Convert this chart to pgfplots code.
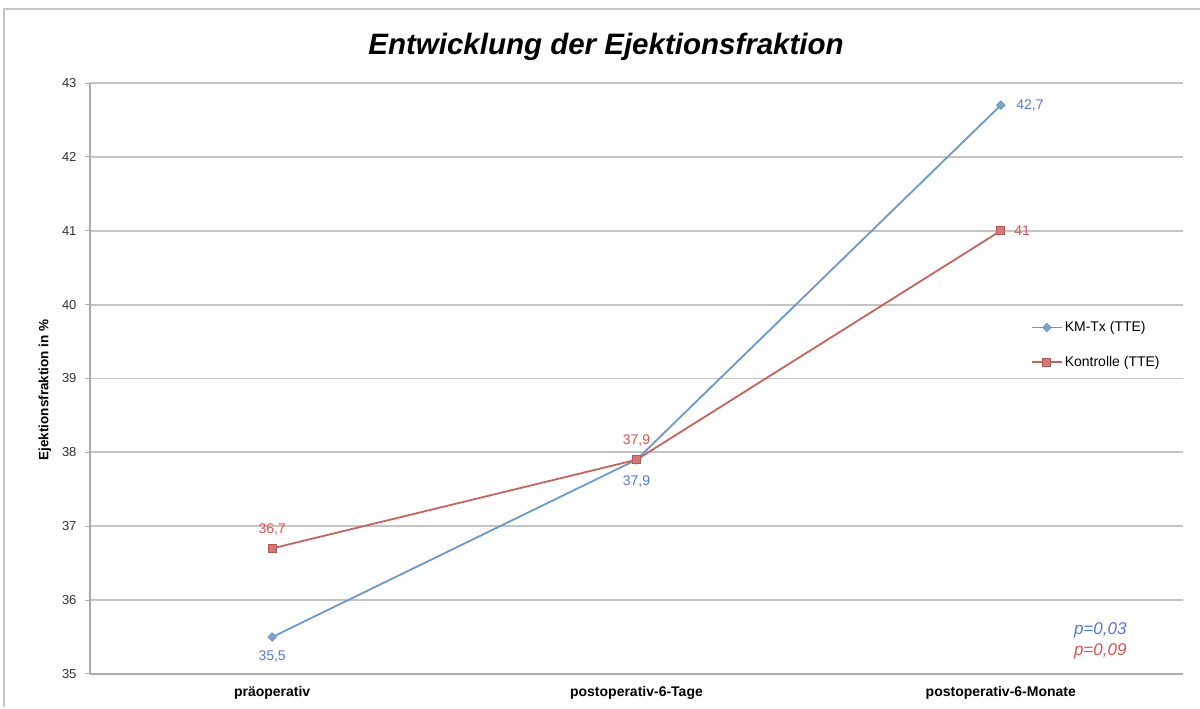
\documentclass[border=0pt]{standalone}
\usepackage{pgfplots}
\pgfplotsset{compat=1.18}
\usepackage{fontspec}
\setmainfont{Liberation Sans}
\definecolor{bline}{RGB}{108,152,204}
\definecolor{blab}{RGB}{84,120,222}
\definecolor{rline}{RGB}{204,96,92}
\definecolor{rlab}{RGB}{222,82,78}
\definecolor{gridc}{RGB}{196,196,196}
\definecolor{axc}{RGB}{170,170,170}
\begin{document}
\begin{tikzpicture}[x=1pt,y=1pt]
\useasboundingbox (0,0) rectangle (1200,709);
\fill[white] (0,0) rectangle (1200,709);
\draw[gridc,line width=1.5pt] (4,2) -- (4,700) -- (1200,700);
\begin{axis}[
  at={(90pt,35pt)}, anchor=south west,
  scale only axis, width=1093pt, height=591pt,
  xmin=-0.5, xmax=2.5, ymin=35, ymax=43,
  xtick={0,1,2},
  xticklabels={präoperativ,postoperativ-6-Tage,postoperativ-6-Monate},
  xticklabel style={font=\fontsize{14}{16}\selectfont\bfseries, yshift=-4pt},
  major x tick style={draw=none},
  ytick={35,36,...,43},
  yticklabel style={font=\fontsize{13}{15}\selectfont, color=black!80, xshift=-5pt},
  /pgf/number format/assume math mode=true,
  ymajorgrids, grid style={gridc, line width=1.8pt},
  axis x line*=bottom, axis y line*=left,
  axis line style={axc, line width=1.2pt},
  tick style={axc, line width=1pt},
  major tick length=5pt,
  tick align=outside,
  clip=false,
  legend style={at={(0.858,0.557)}, anchor=west, draw=none, fill=none,
    font=\fontsize{14}{16}\selectfont, row sep=19pt, cells={anchor=west}},
  legend image code/.code={\draw[mark repeat=2,mark phase=2,#1] plot coordinates {(0pt,0pt)(15pt,0pt)(30pt,0pt)};},
]
\addplot[bline, line width=1.8pt, mark=square*, mark size=3pt, mark options={rotate=45, fill=bline!90, draw=bline, line width=0.8pt}] coordinates {(0,35.5) (1,37.9) (2,42.7)};
\addlegendentry{KM-Tx (TTE)}
\addplot[rline, line width=1.8pt, mark=square*, mark size=4pt, mark options={fill=rline!85!white, draw=rline!90!black, line width=1pt}] coordinates {(0,36.7) (1,37.9) (2,41)};
\addlegendentry{Kontrolle (TTE)}
\begin{scope}[every node/.style={font=\fontsize{14}{16}\selectfont}]
\node[blab, below=10pt] at (axis cs:0,35.5) {35,5};
\node[blab, below=12pt] at (axis cs:1,37.9) {37,9};
\node[blab, right=12pt] at (axis cs:2,42.7) {42,7};
\node[rlab, above=10pt] at (axis cs:0,36.7) {36,7};
\node[rlab, above=10pt] at (axis cs:1,37.9) {37,9};
\node[rlab, right=10pt] at (axis cs:2,41) {41};
\end{scope}
\end{axis}
\node[font=\fontsize{29.5}{32}\selectfont\bfseries\itshape] at (606,662) {Entwicklung der Ejektionsfraktion};
\node[rotate=90, font=\fontsize{13.5}{15}\selectfont\bfseries] at (45,319) {Ejektionsfraktion in \%};
\node[blab, font=\fontsize{17}{19}\selectfont\itshape, anchor=east] at (1130,79) {p=0,03};
\node[rlab, font=\fontsize{17}{19}\selectfont\itshape, anchor=east] at (1130,58) {p=0,09};
\end{tikzpicture}
\end{document}
